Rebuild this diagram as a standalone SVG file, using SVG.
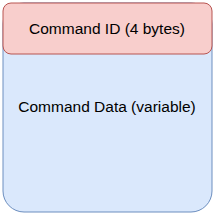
<svg xmlns="http://www.w3.org/2000/svg" width="214" height="214" viewBox="0 0 214 214">
<style>
.lbl{font-family:"Liberation Sans",Arial,sans-serif;font-size:15.5px;fill:#000;text-anchor:middle}
</style>
<rect width="214" height="214" fill="#fff"/>
<g id="data">
<rect x="3" y="3" width="209" height="209" rx="21" ry="21" fill="#dae8fc" stroke="#6c8ebf" stroke-width="1"/>
<text class="lbl" x="107" y="112.3">Command Data (variable)</text>
</g>
<g id="cmdid">
<rect x="3" y="3" width="209" height="51" rx="8" ry="8" fill="#f8cecc" stroke="#b85450" stroke-width="1"/>
<text class="lbl" x="107" y="34.4">Command ID (4 bytes)</text>
</g>
</svg>
